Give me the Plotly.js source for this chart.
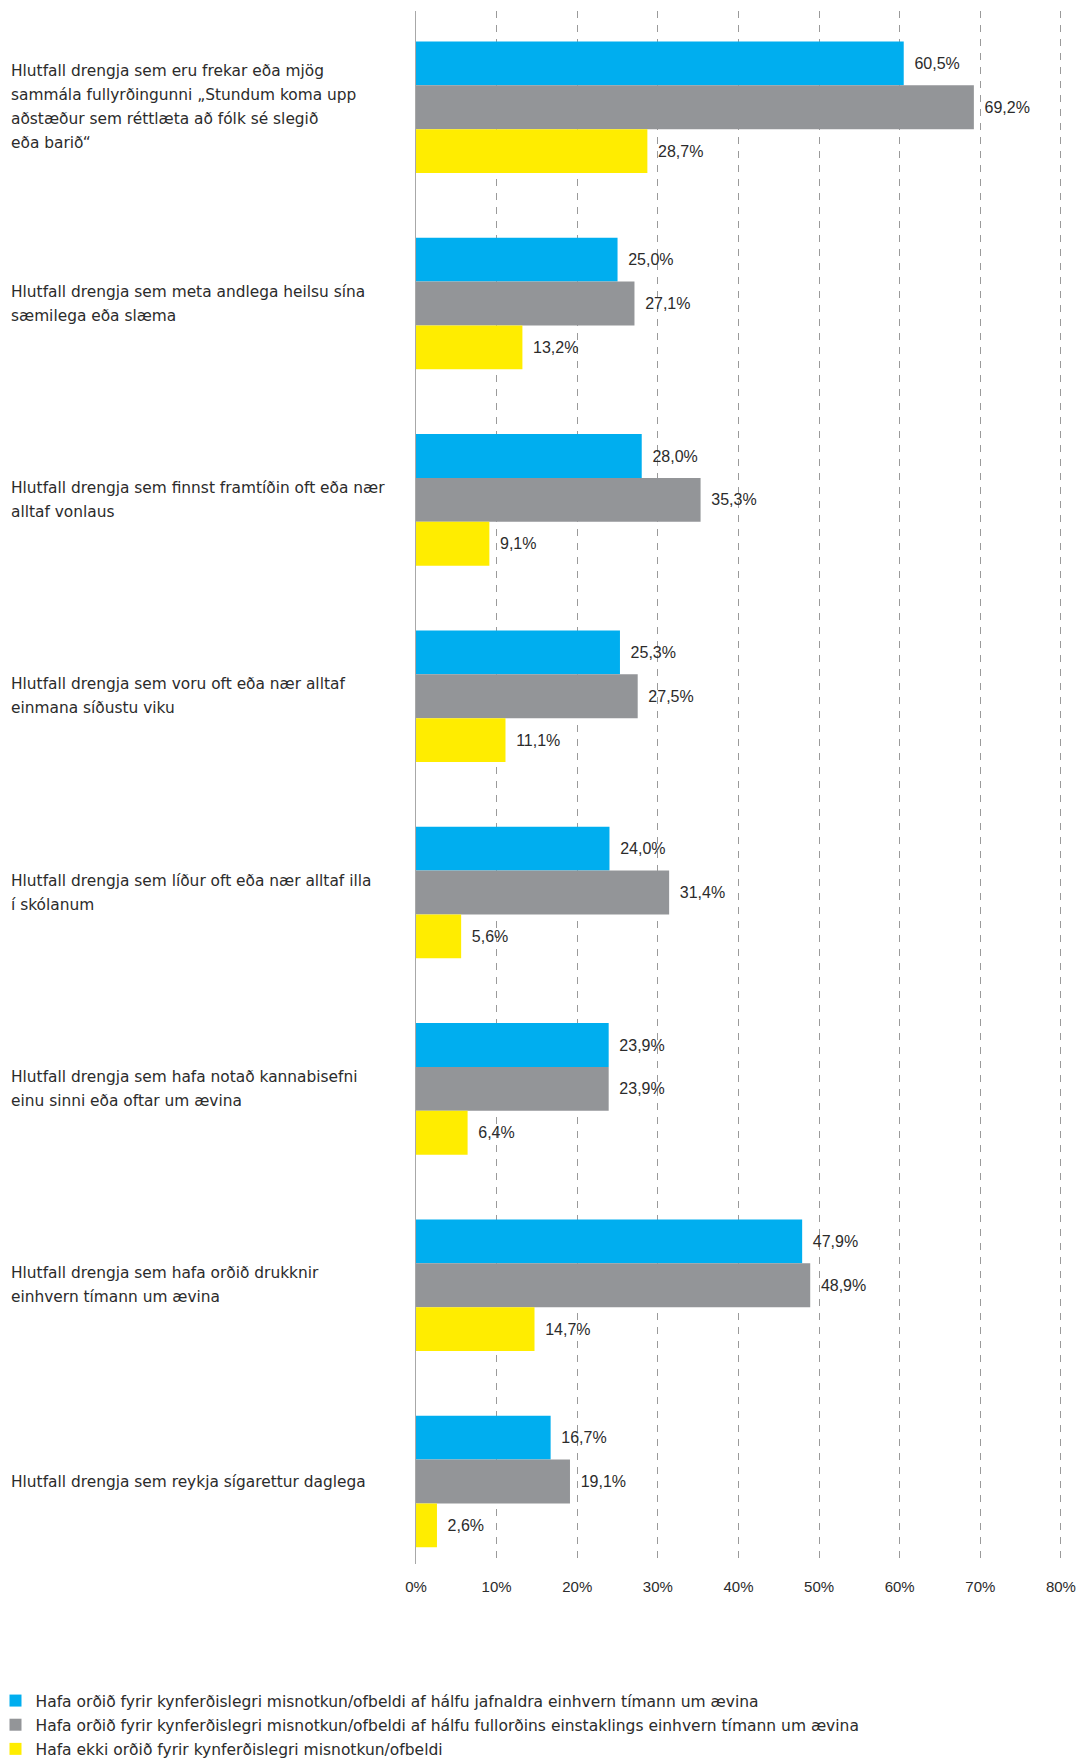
<!DOCTYPE html>
<html>
<head>
<meta charset="utf-8">
<script src="https://cdn.plot.ly/plotly-3.0.1.min.js"></script>
<style>html,body{margin:0;padding:0;background:#fff;}#chart{width:1084px;height:1758px;}</style>
</head>
<body>
<div id="chart"></div>
<script>
const categories = [
  "Hlutfall drengja sem eru frekar eða mjög<br>sammála fullyrðingunni „Stundum koma upp<br>aðstæður sem réttlæta að fólk sé slegið<br>eða barið“",
  "Hlutfall drengja sem meta andlega heilsu sína<br>sæmilega eða slæma",
  "Hlutfall drengja sem finnst framtíðin oft eða nær<br>alltaf vonlaus",
  "Hlutfall drengja sem voru oft eða nær alltaf<br>einmana síðustu viku",
  "Hlutfall drengja sem líður oft eða nær alltaf illa<br>í skólanum",
  "Hlutfall drengja sem hafa notað kannabisefni<br>einu sinni eða oftar um ævina",
  "Hlutfall drengja sem hafa orðið drukknir<br>einhvern tímann um ævina",
  "Hlutfall drengja sem reykja sígarettur daglega"
];
const seriesNames = [
  "Hafa orðið fyrir kynferðislegri misnotkun/ofbeldi af hálfu jafnaldra einhvern tímann um ævina",
  "Hafa orðið fyrir kynferðislegri misnotkun/ofbeldi af hálfu fullorðins einstaklings einhvern tímann um ævina",
  "Hafa ekki orðið fyrir kynferðislegri misnotkun/ofbeldi"
];
const peerValues  = [60.5, 25.0, 28.0, 25.3, 24.0, 23.9, 47.9, 16.7];
const adultValues = [69.2, 27.1, 35.3, 27.5, 31.4, 23.9, 48.9, 19.1];
const noneValues  = [28.7, 13.2,  9.1, 11.1,  5.6,  6.4, 14.7,  2.6];
const xTickValues = [0, 10, 20, 30, 40, 50, 60, 70, 80];

const colors = ["#00AEEF", "#939598", "#FFED00"];
const valueSets = [peerValues, adultValues, noneValues];
const textColor = "#2b2b2b";
const numFont = "'Liberation Sans', Arial, sans-serif";
const labelFont = "'DejaVu Sans', sans-serif";

const traces = valueSets.map((vals, i) => ({
  type: "bar",
  orientation: "h",
  name: seriesNames[i],
  legendgroup: "g" + i,
  y: categories,
  x: vals,
  marker: { color: colors[i], line: { width: 0 } },
  texttemplate: "\u00a0\u2009%{x:.1f}%",
  textposition: "outside",
  textfont: { size: 16, color: textColor, family: numFont },
  cliponaxis: false,
  hoverinfo: "skip"
}));

// Left-aligned category labels, one annotation per line
const annotations = [];
const lineHeight = 24;
categories.forEach(cat => {
  const lines = cat.split("<br>");
  const n = lines.length;
  lines.forEach((ln, i) => {
    annotations.push({
      xref: "paper", yref: "y",
      x: 0.0082, y: cat,
      xanchor: "left", yanchor: "middle",
      text: ln, showarrow: false, align: "left",
      yshift: ((n - 1) / 2 - i) * lineHeight,
      font: { size: 15.4, color: textColor, family: labelFont }
    });
  });
});

const layout = {
  width: 1084, height: 1758,
  margin: { l: 0, r: 0, t: 11, b: 194 },
  paper_bgcolor: "#fff", plot_bgcolor: "#fff",
  separators: ",.",
  barmode: "group",
  bargap: 0.33, bargroupgap: 0,
  font: { family: numFont, color: textColor },
  xaxis: {
    domain: [416 / 1084, 1069 / 1084],
    range: [0, 81],
    tickvals: xTickValues,
    ticktext: xTickValues.map(v => v + "%"),
    showgrid: true, gridcolor: "#9a9a9a", gridwidth: 1, griddash: "7px,7px",
    zeroline: false, showline: false, ticks: "",
    ticklabelstandoff: 12,
    tickfont: { size: 15, color: textColor, family: numFont },
    fixedrange: true
  },
  yaxis: {
    type: "category",
    categoryarray: categories,
    range: [7.42, -0.49],
    showticklabels: false,
    showline: true, linecolor: "#a8a8a8", linewidth: 1.5,
    showgrid: false, zeroline: false, ticks: "",
    fixedrange: true
  },
  showlegend: true,
  legend: {
    orientation: "v",
    xref: "paper", yref: "container",
    x: 0, xanchor: "left",
    y: 0.0421, yanchor: "top",
    traceorder: "grouped",
    tracegroupgap: 1,
    indentation: -4.5,
    bgcolor: "rgba(0,0,0,0)",
    font: { size: 15.5, color: textColor, family: labelFont },
    itemwidth: 30
  },
  annotations: annotations,
  hovermode: false
};

Plotly.newPlot("chart", traces, layout, { staticPlot: true, displayModeBar: false });
</script>
</body>
</html>
